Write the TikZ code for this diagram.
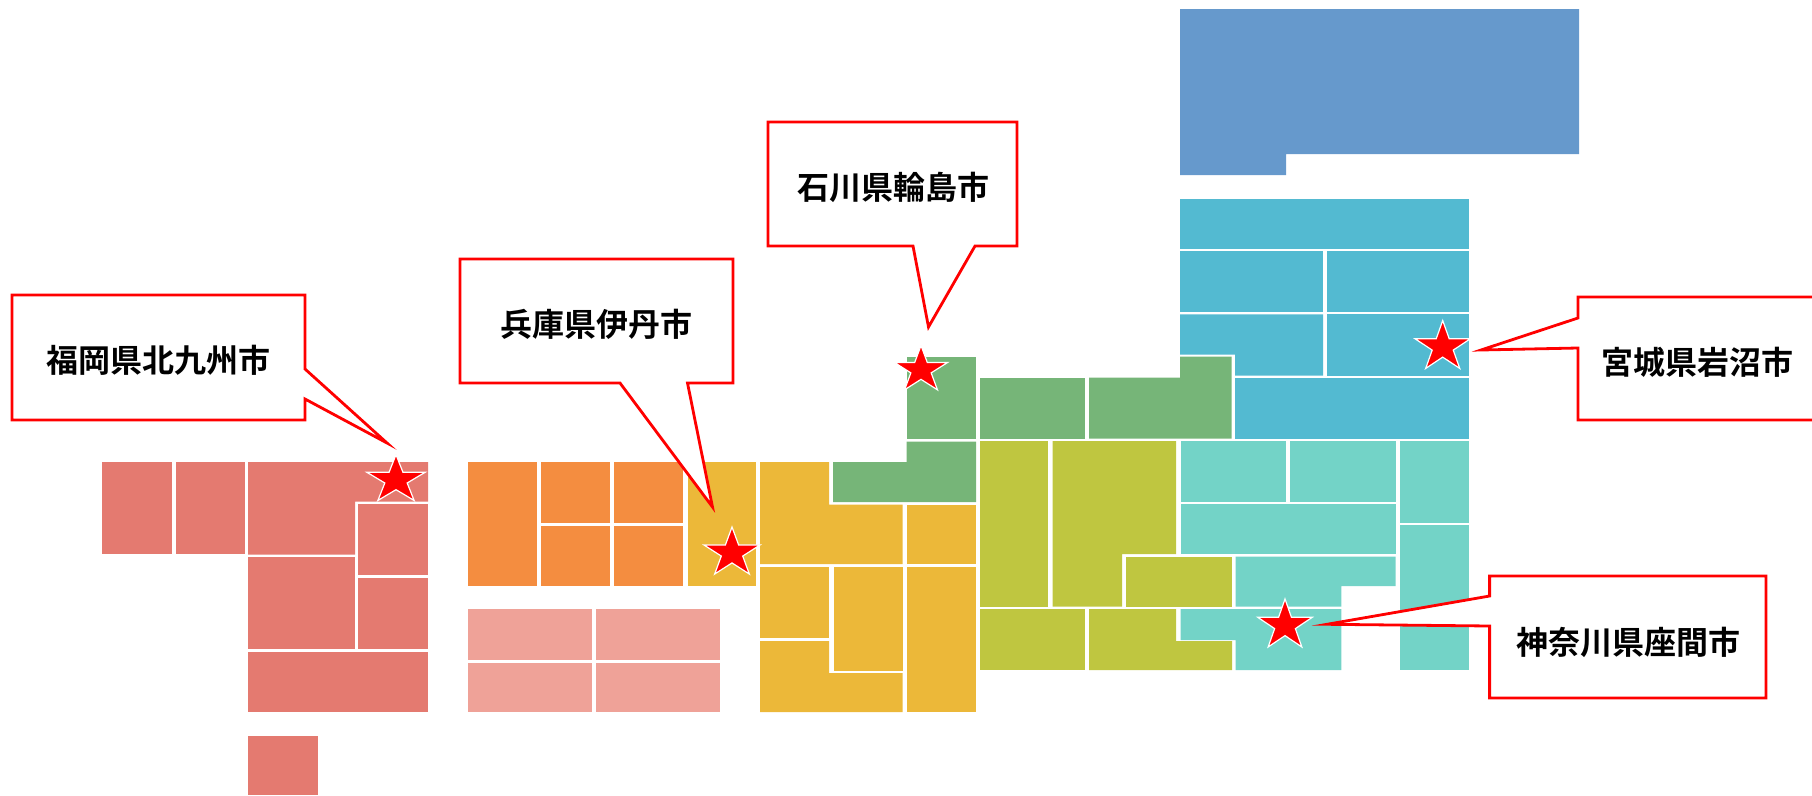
\documentclass[tikz,border=0pt]{standalone}
\usepackage{fontspec}
\newfontfamily\cjk{Noto Sans CJK JP Bold}
\definecolor{cKyu}{HTML}{E47A70}
\definecolor{cShi}{HTML}{F48D40}
\definecolor{cChu}{HTML}{EFA298}
\definecolor{cKan}{HTML}{ECB839}
\definecolor{cHok}{HTML}{76B578}
\definecolor{cTok}{HTML}{BFC640}
\definecolor{cKto}{HTML}{73D3C7}
\definecolor{cToh}{HTML}{53BAD1}
\definecolor{cHkd}{HTML}{6699CC}
\tikzset{
  callout/.style={draw=red,fill=white,line width=2.8pt,miter limit=20},
  label/.style={font=\cjk\fontsize{32}{36}\selectfont,text=black,inner sep=0pt},
  starmark/.style={draw=white,fill=red,line width=1.2pt,miter limit=20}
}
\newcommand{\mapstar}[4]{%
  \begin{scope}[shift={(#1,#2)},x=#3pt,y=#4pt]
    \path[starmark] (0,1) -- (.2245,.309) -- (.951,.309) -- (.363,-.118) -- (.588,-.809) -- (0,-.382) -- (-.588,-.809) -- (-.363,-.118) -- (-.951,.309) -- (-.2245,.309) -- cycle;
  \end{scope}}
\begin{document}
\begin{tikzpicture}[x=1pt,y=-1pt]
\useasboundingbox (0,0) rectangle (1812,795);
\clip (0,0) rectangle (1812,795);
% Kyushu
\fill[cKyu] (102,462) rectangle (172,554);
\fill[cKyu] (176,462) rectangle (245,554);
\fill[cKyu] (248,462) -- (428,462) -- (428,501.5) -- (355,501.5) -- (355,554.5) -- (248,554.5) -- cycle;
\fill[cKyu] (358,504) rectangle (428,575);
\fill[cKyu] (358,578) rectangle (428,649);
\fill[cKyu] (248,557) rectangle (355,649);
\fill[cKyu] (248,652) rectangle (428,712);
\fill[cKyu] (248,736) rectangle (318,795);
% Shikoku
\fill[cShi] (467.5,462) rectangle (537,586);
\fill[cShi] (541,462) rectangle (610,523);
\fill[cShi] (614,462) rectangle (683,523);
\fill[cShi] (541,525.5) rectangle (610,586);
\fill[cShi] (614,525.5) rectangle (683,586);
% Chugoku
\fill[cChu] (467.5,609) rectangle (592,660);
\fill[cChu] (596,609) rectangle (720,660);
\fill[cChu] (467.5,662.5) rectangle (592,712);
\fill[cChu] (596,662.5) rectangle (720,712);
% Kansai
\fill[cKan] (687.5,462) rectangle (756,586);
\fill[cKan] (760,462) -- (829,462) -- (829,504.5) -- (902.5,504.5) -- (902.5,564) -- (760,564) -- cycle;
\fill[cKan] (907,504.5) rectangle (976,564);
\fill[cKan] (760,567) rectangle (829,638);
\fill[cKan] (833.5,567) rectangle (902.5,670.5);
\fill[cKan] (760,641) -- (829,641) -- (829,673) -- (902.5,673) -- (902.5,712) -- (760,712) -- cycle;
\fill[cKan] (907,567) rectangle (976,712);
% Hokuriku / green
\fill[cHok] (906.5,356.5) rectangle (976,439);
\fill[cHok] (906.5,441.5) -- (976,441.5) -- (976,502) -- (833,502) -- (833,462) -- (906.5,462) -- cycle;
\fill[cHok] (980,377.7) rectangle (1085,438.7);
\fill[cHok] (1089,377.7) -- (1180,377.7) -- (1180,356.7) -- (1231.5,356.7) -- (1231.5,438.7) -- (1089,438.7) -- cycle;
% Tokai
\fill[cTok] (980,441) rectangle (1048,606.7);
\fill[cTok] (1052.5,441) -- (1176,441) -- (1176,554) -- (1122,554) -- (1122,606.7) -- (1052.5,606.7) -- cycle;
\fill[cTok] (1126,556.7) rectangle (1231.5,606.7);
\fill[cTok] (980,609) rectangle (1085,670);
\fill[cTok] (1089,609) -- (1176,609) -- (1176,641) -- (1232,641) -- (1232,670) -- (1089,670) -- cycle;
% Kanto
\fill[cKto] (1180.7,441) rectangle (1286,501.7);
\fill[cKto] (1290,441) rectangle (1395.7,501.7);
\fill[cKto] (1400,441) rectangle (1469,522.7);
\fill[cKto] (1400,525) rectangle (1469,670);
\fill[cKto] (1180.7,504) rectangle (1395.7,554);
\fill[cKto] (1235.7,556.7) -- (1395.7,556.7) -- (1395.7,586) -- (1341.4,586) -- (1341.4,606.7) -- (1235.7,606.7) -- cycle;
\fill[cKto] (1180.7,609) -- (1341.4,609) -- (1341.4,670) -- (1235.7,670) -- (1235.7,640) -- (1180.7,640) -- cycle;
% Tohoku
\fill[cToh] (1180,199) rectangle (1469,249);
\fill[cToh] (1180,251) rectangle (1323,312);
\fill[cToh] (1327,251) rectangle (1469,312);
\fill[cToh] (1180,314.3) -- (1323,314.3) -- (1323,375.7) -- (1235,375.7) -- (1235,354.5) -- (1180,354.5) -- cycle;
\fill[cToh] (1327,314.3) rectangle (1469,375.7);
\fill[cToh] (1235,377.7) rectangle (1469,438.7);
% Hokkaido
\fill[cHkd] (1180,9) -- (1579,9) -- (1579,154) -- (1286,154) -- (1286,175) -- (1180,175) -- cycle;
% Callouts
\path[callout] (12,295) -- (305,295) -- (305,369) -- (387,443) -- (305,399) -- (305,420) -- (12,420) -- cycle;
\path[callout] (460,259) -- (733,259) -- (733,383) -- (687.5,383) -- (712.5,507) -- (620,383) -- (460,383) -- cycle;
\path[callout] (768,122) -- (1017,122) -- (1017,246) -- (975,246) -- (928.5,327) -- (913,246) -- (768,246) -- cycle;
\path[callout] (1578,297) -- (1830,297) -- (1830,420) -- (1578,420) -- (1578,348) -- (1481,350) -- (1578,318) -- cycle;
\path[callout] (1489.6,576) -- (1766,576) -- (1766,698) -- (1489.6,698) -- (1489.6,626) -- (1327,624.3) -- (1489.6,596) -- cycle;
% Labels
\node[label] (fukuoka) at (158.5,360) {福岡県北九州市};
\node[label] (hyogo) at (596,324) {兵庫県伊丹市};
\node[label] (ishikawa) at (893,187) {石川県輪島市};
\node[label] (miyagi) at (1697,362) {宮城県岩沼市};
\node[label] (kanagawa) at (1628,642) {神奈川県座間市};
% Stars
\mapstar{396}{480}{30.8}{25.3}
\mapstar{732}{553}{29.5}{26}
\mapstar{921}{370}{28}{24.5}
\mapstar{1442.7}{347}{29}{26.5}
\mapstar{1285}{625.5}{28.6}{26.5}
\end{tikzpicture}
\end{document}
